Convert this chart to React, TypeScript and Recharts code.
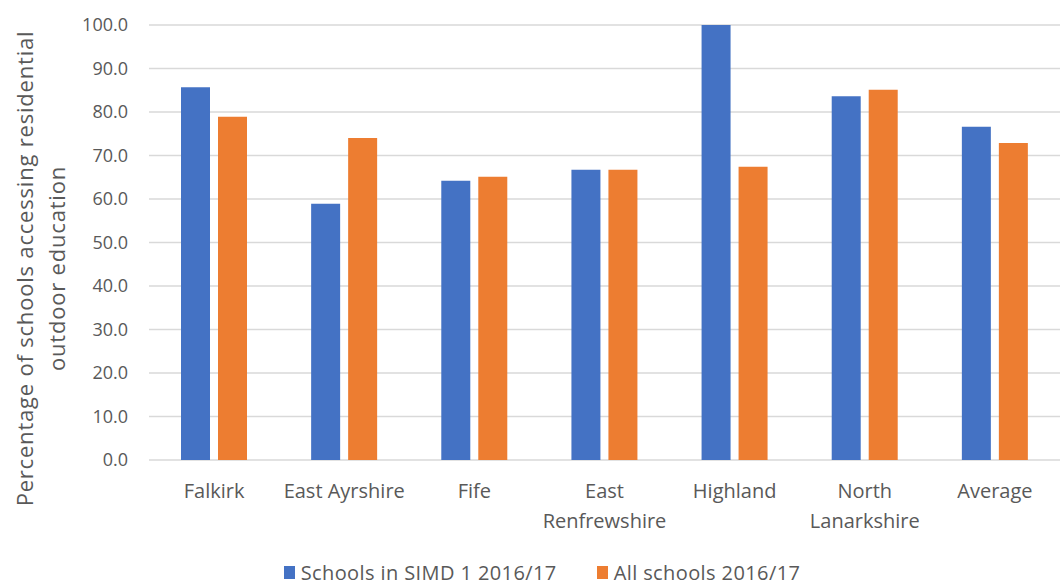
import React from "react";
import {
  Bar,
  BarChart,
  CartesianGrid,
  Legend,
  XAxis,
  YAxis,
} from "recharts";

const AREAS = [
  "Falkirk",
  "East Ayrshire",
  "Fife",
  "East Renfrewshire",
  "Highland",
  "North Lanarkshire",
  "Average",
];

// how each category name breaks over lines under the axis
const AREA_LINES = [
  ["Falkirk"],
  ["East Ayrshire"],
  ["Fife"],
  ["East", "Renfrewshire"],
  ["Highland"],
  ["North", "Lanarkshire"],
  ["Average"],
];

const SIMD1 = [85.7, 58.9, 64.2, 66.7, 100.0, 83.6, 76.6];
const ALL_SCHOOLS = [78.9, 74.0, 65.1, 66.7, 67.4, 85.1, 72.9];

const Y_TICKS = [0, 10, 20, 30, 40, 50, 60, 70, 80, 90, 100];

const SIMD_NAME = "Schools in SIMD 1 2016/17";
const ALL_NAME = "All schools 2016/17";

const BLUE = "#4472C4";
const ORANGE = "#ED7D31";
const TEXT = "#595959";
const FONT = "'Open Sans', 'Noto Sans', sans-serif";

const LEGEND_ITEMS = [
  { name: SIMD_NAME, color: BLUE },
  { name: ALL_NAME, color: ORANGE },
];

const data = AREAS.map((name, i) => ({
  name,
  simd: SIMD1[i],
  all: ALL_SCHOOLS[i],
}));

function AreaTick(props: any) {
  const { x, y, payload } = props;
  const lines = AREA_LINES[payload.index] ?? [payload.value];
  return (
    <text
      x={x}
      y={y}
      textAnchor="middle"
      fill={TEXT}
      fontSize={20}
      fontFamily={FONT}
    >
      {lines.map((l: string, i: number) => (
        <tspan key={l} x={x} dy={i === 0 ? "0.71em" : 30}>
          {l}
        </tspan>
      ))}
    </text>
  );
}

function AxisTitle(props: any) {
  const { viewBox } = props;
  const cy = viewBox.y + viewBox.height / 2 + 26;
  const rows = [
    { x: 24, text: "Percentage of schools accessing residential" },
    { x: 56, text: "outdoor education" },
  ];
  return (
    <g>
      {rows.map((r) => (
        <text
          key={r.text}
          x={r.x}
          y={cy}
          transform={`rotate(-90, ${r.x}, ${cy})`}
          textAnchor="middle"
          dominantBaseline="central"
          fill={TEXT}
          fontSize={22}
          letterSpacing={0.8}
          fontFamily={FONT}
        >
          {r.text}
        </text>
      ))}
    </g>
  );
}

function LegendRow() {
  return (
    <div
      style={{
        display: "flex",
        justifyContent: "center",
        gap: 40,
        height: 30,
        paddingTop: 7,
        paddingLeft: 24,
        fontFamily: FONT,
        fontSize: 20,
        letterSpacing: 0.4,
        color: TEXT,
      }}
    >
      {LEGEND_ITEMS.map((it) => (
        <div
          key={it.name}
          style={{ display: "flex", alignItems: "center", gap: 6 }}
        >
          <span
            style={{
              display: "inline-block",
              width: 11,
              height: 13,
              background: it.color,
            }}
          />
          <span>{it.name}</span>
        </div>
      ))}
    </div>
  );
}

export default function App() {
  return (
    <div
      style={{
        position: "absolute",
        left: 0,
        top: 0,
        width: 1060,
        height: 587,
        background: "#fff",
      }}
    >
      <BarChart
        width={1060}
        height={587}
        data={data}
        margin={{ top: 25, right: 0, left: 0, bottom: 0 }}
        barSize={29}
        barGap={8}
      >
        <CartesianGrid vertical={false} stroke="#d9d9d9" strokeWidth={1.5} />
        <XAxis
          dataKey="name"
          axisLine={false}
          tickLine={false}
          tickSize={0}
          tickMargin={24}
          height={90}
          interval={0}
          tick={<AreaTick />}
        />
        <YAxis
          width={149}
          domain={[0, 100]}
          ticks={Y_TICKS}
          axisLine={false}
          tickLine={false}
          tickSize={0}
          tickMargin={21}
          tickFormatter={(v: number) => v.toFixed(1)}
          tick={{ fill: TEXT, fontSize: 18, fontFamily: FONT }}
          label={<AxisTitle />}
        />
        <Legend verticalAlign="bottom" content={<LegendRow />} />
        <Bar
          dataKey="simd"
          name={SIMD_NAME}
          fill={BLUE}
          isAnimationActive={false}
        />
        <Bar
          dataKey="all"
          name={ALL_NAME}
          fill={ORANGE}
          isAnimationActive={false}
        />
      </BarChart>
    </div>
  );
}
